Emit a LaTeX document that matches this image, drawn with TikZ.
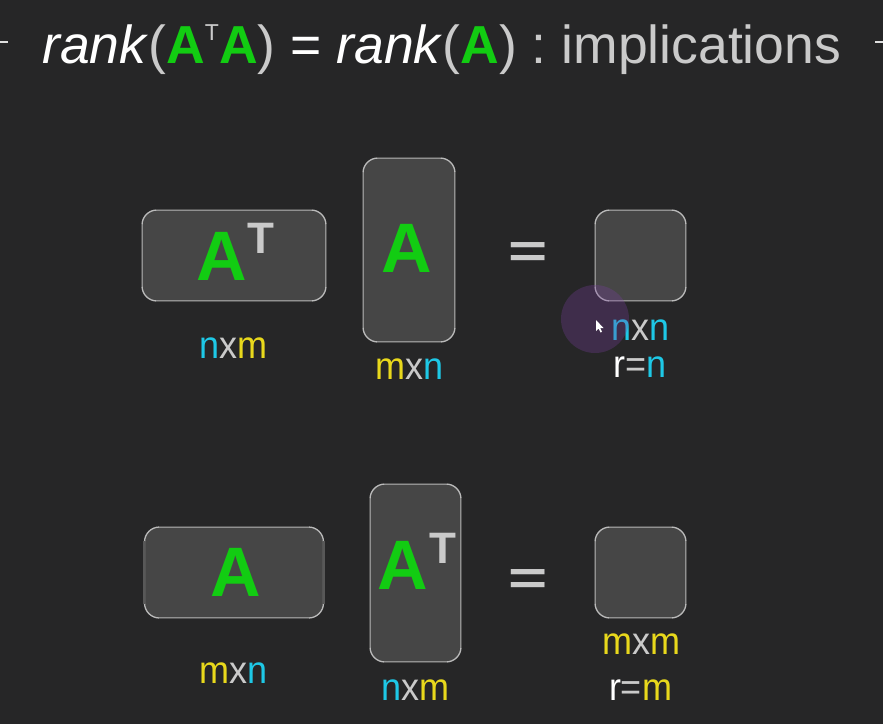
\documentclass[tikz,border=0pt]{standalone}
\usepackage{fontspec}
\setmainfont{Liberation Sans}
\definecolor{bg}{HTML}{262627}
\definecolor{boxfill}{HTML}{464646}
\definecolor{boxedge}{HTML}{585858}
\definecolor{corner}{HTML}{BABABA}
\definecolor{agreen}{HTML}{12CC12}
\definecolor{tgrey}{HTML}{CACACA}
\definecolor{ncyan}{HTML}{1EC8E6}
\definecolor{myellow}{HTML}{E8D81C}
\definecolor{spot}{HTML}{7A3FA0}
\newcommand{\fsz}[1]{\fontsize{#1}{#1}\selectfont}
\newcommand{\cN}{\textcolor{ncyan}{n}}
\newcommand{\cM}{\textcolor{myellow}{m}}
\newcommand{\cX}{\textcolor{tgrey}{x}}
\newcommand{\tall}[1]{\scalebox{1}[1.07]{#1}}
\newcommand{\edgelines}[1]{%
  \draw[edgeline] ([xshift=15pt]#1.north west) -- ([xshift=-15pt]#1.north east);
  \draw[edgeline] ([xshift=15pt]#1.south west) -- ([xshift=-15pt]#1.south east);
  \draw[edgeline] ([yshift=-15pt]#1.north west) -- ([yshift=15pt]#1.south west);
  \draw[edgeline] ([yshift=-15pt]#1.north east) -- ([yshift=15pt]#1.south east);}
\begin{document}
\begin{tikzpicture}[x=1pt,y=-1pt,
  mat/.style={draw=corner, fill=boxfill, rounded corners=15pt, line width=1.3pt, inner sep=0pt},
  edgeline/.style={draw=boxedge, line width=1.6pt},
  bigA/.style={font=\bfseries\fsz{70}, text=agreen, anchor=base, inner sep=0pt},
  supT/.style={font=\bfseries\fsz{44}, text=tgrey, anchor=base, inner sep=0pt},
  eqs/.style={font=\bfseries\fsz{48}, text=tgrey, anchor=base, inner sep=0pt},
  lbl/.style={font=\fsz{36}, anchor=base, inner sep=0pt},
  tick/.style={draw=tgrey!60, line width=1.5pt}]
\fill[bg] (0,0) rectangle (883,724);
\useasboundingbox (0,0) rectangle (883,724);

% title
\node[anchor=base west, inner sep=0pt, font=\fsz{53.5}, text=white] (title) at (42,63)
  {\textit{rank}\textcolor{tgrey}{(}\textcolor{agreen}{\bfseries A}\textcolor{tgrey}{\raisebox{0.42em}{\fsz{23}T}}\textcolor{agreen}{\bfseries A}\textcolor{tgrey}{)} = \textit{rank}\textcolor{tgrey}{(}\textcolor{agreen}{\bfseries A}\textcolor{tgrey}{) : implications}};
\coordinate (tl1) at (0,42); \coordinate (tl2) at (8,42);
\coordinate (tr1) at (875,42); \coordinate (tr2) at (883,42);
\draw[tick] (tl1) -- (tl2);
\draw[tick] (tr1) -- (tr2);

% top row
\node[mat, minimum width=184pt, minimum height=91pt] (b1) at (234,255.5) {};
\node[mat, minimum width=92pt, minimum height=184pt] (b2) at (409,250) {};
\node[mat, minimum width=91pt, minimum height=91pt] (b3) at (640.5,255.5) {};
\edgelines{b1}\edgelines{b2}\edgelines{b3}
\node[bigA] (b1A) at (221.5,280) {A};
\node[supT] (b1T) at (260.5,253) {T};
\node[bigA] (b2A) at (406.5,272) {A};
\node[eqs] (eq1) at (528,267) {\scalebox{1.4}[1]{=}};
\node[lbl] (l1) at (233.5,358) {\tall{\cN\cX\cM}};
\node[lbl] (l2) at (409.5,379) {\tall{\cM\cX\cN}};
\node[lbl] (l3) at (640.5,340) {\tall{\cN\cX\cN}};
\node[lbl] (l4) at (640,377) {\tall{\textcolor{white}{r}\textcolor{tgrey}{=}\cN}};

% highlight spot and cursor
\fill[spot, opacity=0.3] (595,319) circle (34);
\fill[white] (596,320) -- (596,331) -- (598.6,328.6) -- (600.6,332.5) -- (602,331.8) -- (600.2,328) -- (603.5,328) -- cycle;

% bottom row
\node[mat, minimum width=179pt, minimum height=91pt] (c1) at (234,572.5) {};
\node[mat, minimum width=91pt, minimum height=178pt] (c2) at (415.5,573) {};
\node[mat, minimum width=91pt, minimum height=91pt] (c3) at (640.5,572.5) {};
\edgelines{c1}\edgelines{c2}\edgelines{c3}
\node[bigA] (c1A) at (235.5,596) {A};
\node[bigA] (c2A) at (402.5,589) {A};
\node[supT] (c2T) at (442.5,563) {T};
\node[eqs] (eq2) at (528,594) {\scalebox{1.4}[1]{=}};
\node[lbl] (m1) at (234,683) {\tall{\cM\cX\cN}};
\node[lbl] (m2) at (415,700) {\tall{\cN\cX\cM}};
\node[lbl] (m3) at (641,654) {\tall{\cM\cX\cM}};
\node[lbl] (m4) at (640.5,700) {\tall{\textcolor{white}{r}\textcolor{tgrey}{=}\cM}};
\end{tikzpicture}
\end{document}
